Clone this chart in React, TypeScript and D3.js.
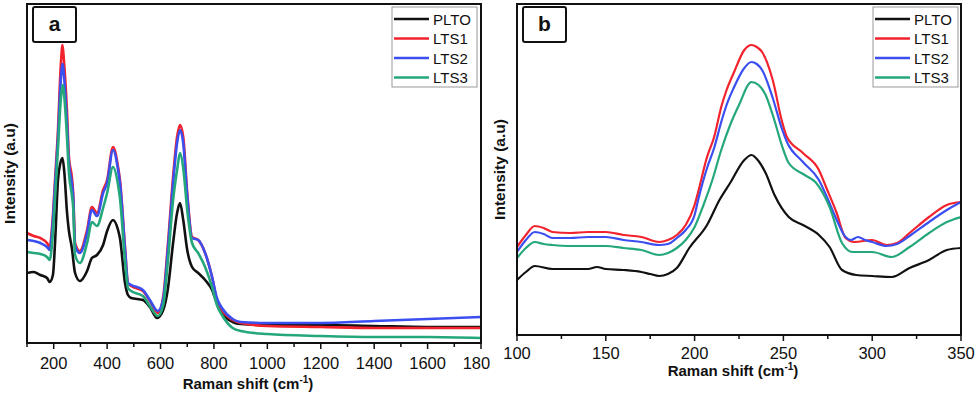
import * as d3 from 'd3';

// Raman shift (cm-1) vs intensity (a.u.)
const seriesNames = ['PLTO', 'LTS1', 'LTS2', 'LTS3'];
const seriesColors = ['#111111', '#f2232d', '#3b4ff0', '#25a77c'];

const xTicksA = [200, 400, 600, 800, 1000, 1200, 1400, 1600, 1800];
const xTicksB = [100, 150, 200, 250, 300, 350];

const pltoA: [number, number][] = [[100,70],[125,71],[150,68],[175,65],[185,61],[197,68],[205,100],[216,163],[225,180],[233,185],[240,170],[250,130],[257,112],[268,95],[280,70],[298,62],[325,72],[343,85],[362,88],[385,98],[400,112],[422,123],[441,113],[448,105],[467,60],[478,48],[490,45],[534,43],[560,36],[587,25],[610,33],[628,55],[647,100],[662,130],[673,140],[685,123],[700,93],[718,76],[741,70],[767,63],[793,53],[811,40],[830,30],[870,21],[900,19],[1000,18],[1200,18],[1400,17],[1600,16],[1800,16]];
const lts1A: [number, number][] = [[100,110],[125,107],[150,105],[175,100],[185,96],[195,120],[205,163],[216,213],[227,280],[233,298],[239,280],[250,230],[257,186],[268,166],[273,150],[280,100],[298,92],[325,113],[343,136],[362,130],[385,153],[400,163],[422,196],[441,176],[448,163],[467,96],[478,60],[490,57],[534,52],[560,42],[590,30],[610,46],[628,100],[647,166],[662,206],[673,218],[685,206],[700,150],[718,106],[741,103],[767,90],[793,66],[811,43],[830,33],[870,23],[900,20],[1000,17],[1200,16],[1400,15],[1600,15],[1800,15]];
const lts2A: [number, number][] = [[100,103],[125,102],[150,100],[175,96],[185,93],[195,115],[205,158],[216,205],[227,265],[233,279],[240,262],[250,218],[257,180],[268,160],[273,145],[280,97],[298,90],[325,110],[343,133],[362,127],[385,150],[400,160],[422,193],[441,173],[448,160],[467,94],[478,60],[490,58],[534,53],[560,43],[590,32],[610,44],[628,95],[647,160],[662,200],[673,213],[685,200],[700,147],[718,105],[741,103],[767,90],[793,66],[811,45],[830,35],[870,24],[900,21],[1000,20],[1200,20],[1400,22],[1600,24],[1800,26]];
const lts3A: [number, number][] = [[100,91],[125,90],[150,89],[175,86],[185,83],[195,103],[205,145],[216,195],[227,245],[233,258],[240,245],[250,205],[257,170],[268,148],[273,135],[280,88],[298,80],[325,100],[343,121],[362,117],[385,135],[400,150],[422,176],[441,158],[448,145],[467,82],[478,55],[490,52],[534,47],[560,37],[590,27],[610,38],[628,83],[647,143],[662,173],[673,190],[685,175],[700,133],[718,100],[741,90],[767,76],[793,56],[811,38],[830,28],[870,15],[900,12],[1000,9],[1200,7],[1400,6],[1600,6],[1800,5]];

const pltoB: [number, number][] = [[100,55],[105,63],[110,69],[120,66],[130,66],[140,66],[145,68],[150,66],[160,65],[170,63],[175,61],[180,59],[185,61],[190,67],[197,87],[207,110],[214,135],[220,152],[228,175],[232,180],[236,174],[240,162],[245,140],[253,118],[261,110],[270,100],[276,88],[283,65],[291,60],[300,59],[311,58],[321,67],[332,75],[342,85],[350,87]];
const lts1B: [number, number][] = [[100,88],[105,100],[110,109],[115,107],[120,103],[130,102],[140,103],[150,103],[160,100],[170,98],[180,93],[185,95],[190,100],[195,110],[200,130],[202,143],[207,178],[211,198],[215,228],[218,245],[222,262],[228,285],[232,290],[235,288],[238,283],[244,255],[249,215],[252,198],[261,182],[270,165],[274,148],[280,122],[285,97],[290,93],[300,95],[308,90],[314,92],[321,102],[332,118],[342,130],[350,133]];
const lts2B: [number, number][] = [[100,83],[105,95],[110,103],[115,101],[120,97],[130,97],[140,98],[150,98],[160,95],[170,93],[180,90],[185,91],[190,97],[195,105],[200,120],[202,135],[207,167],[211,187],[215,213],[218,230],[222,247],[228,267],[232,273],[235,271],[238,265],[244,237],[249,207],[252,193],[261,173],[270,155],[274,140],[280,115],[285,98],[288,95],[292,98],[296,95],[300,93],[308,89],[314,91],[321,99],[332,113],[342,125],[350,133]];
const lts3B: [number, number][] = [[100,77],[105,87],[110,93],[115,91],[120,90],[130,89],[140,89],[150,89],[160,87],[170,85],[180,80],[185,82],[190,87],[195,95],[200,108],[205,130],[210,155],[215,185],[220,210],[225,230],[232,253],[236,250],[240,240],[244,220],[250,185],[253,172],[262,160],[268,153],[276,128],[283,92],[289,83],[300,83],[311,78],[321,88],[332,102],[342,113],[350,118]];

const FONT = '"Liberation Sans", Arial, Helvetica, sans-serif';

type PanelProps = {
  letter: string;
  series: [number, number][][];
  xDomain: [number, number];
  yMax: number;
  left: number; right: number; top: number; bottom: number;
  majorTicks: number[];
  minorStep: number;
  legendX: number; legendW: number;
  tickLabelDy: number;
  titleY: number;
  yTitleX: number;
  clipRight?: number;
  lineWidth: number;
};

const Panel = (p: PanelProps) => {
  const x = d3.scaleLinear().domain(p.xDomain).range([p.left, p.right]);
  const y = d3.scaleLinear().domain([0, p.yMax]).range([p.bottom, p.top]);
  const line = d3.line<[number, number]>()
    .x(d => x(d[0]))
    .y(d => y(d[1]))
    .curve(d3.curveMonotoneX);
  const minor = d3.range(p.xDomain[0], p.xDomain[1] + 0.001, p.minorStep)
    .filter(v => !p.majorTicks.includes(v));
  const clipId = 'clip-' + p.letter;
  const legendY = 8;
  const rowH = 19.5;

  return (
    <g clipPath={p.clipRight ? `url(#${clipId}-all)` : undefined}>
      <defs>
        <clipPath id={clipId}>
          <rect x={p.left} y={p.top} width={p.right - p.left} height={p.bottom - p.top} />
        </clipPath>
        {p.clipRight && (
          <clipPath id={`${clipId}-all`}>
            <rect x={0} y={0} width={p.clipRight} height={396} />
          </clipPath>
        )}
      </defs>

      <g clipPath={`url(#${clipId})`}>
        {p.series.map((s, i) => (
          <path key={i} d={line(s) || ''} fill="none" stroke={seriesColors[i]}
            strokeWidth={p.lineWidth} strokeLinejoin="round" />
        ))}
      </g>

      <rect x={p.left} y={p.top} width={p.right - p.left} height={p.bottom - p.top}
        fill="none" stroke="#111" strokeWidth={2} />

      {p.majorTicks.map(t => (
        <g key={'M' + t}>
          <line x1={x(t)} x2={x(t)} y1={p.bottom} y2={p.bottom + 6} stroke="#111" strokeWidth={1.5} />
          <text x={x(t)} y={p.bottom + p.tickLabelDy} textAnchor="middle"
            fontFamily={FONT} fontSize={16.5} fill="#111">{t}</text>
        </g>
      ))}
      {minor.map(t => (
        <line key={'m' + t} x1={x(t)} x2={x(t)} y1={p.bottom} y2={p.bottom + 4}
          stroke="#111" strokeWidth={1.5} />
      ))}

      <text x={(p.left + p.right) / 2 - 6} y={p.titleY} textAnchor="middle"
        fontFamily={FONT} fontSize={15} fontWeight="bold" fill="#111">
        Raman shift (cm<tspan fontSize={10} dy={-6}>-1</tspan><tspan dy={6}>)</tspan>
      </text>
      <text transform={`translate(${p.yTitleX},${(p.top + p.bottom) / 2}) rotate(-90)`}
        textAnchor="middle" fontFamily={FONT} fontSize={15.5} fontWeight="bold" fill="#111">
        Intensity (a.u)
      </text>

      <rect x={p.left + 6} y={7} width={43} height={35} rx={2}
        fill="#fff" stroke="#111" strokeWidth={2} />
      <text x={p.left + 27.5} y={31} textAnchor="middle" fontFamily={FONT}
        fontSize={21} fontWeight="bold" fill="#111">{p.letter}</text>

      <rect x={p.legendX} y={legendY - 1} width={p.legendW} height={rowH * 4 + 2}
        fill="#fff" stroke="#999" strokeWidth={1} />
      {seriesNames.map((n, i) => {
        const cy = legendY + 11 + i * rowH;
        return (
          <g key={n}>
            <line x1={p.legendX + 2} x2={p.legendX + 37} y1={cy} y2={cy}
              stroke={seriesColors[i]} strokeWidth={2.5} />
            <text x={p.legendX + 41} y={cy + 5.5} fontFamily={FONT} fontSize={15} fill="#111">{n}</text>
          </g>
        );
      })}
    </g>
  );
};

export default function App() {
  return (
    <svg width={978} height={396} style={{ position: 'absolute', left: 0, top: 0, background: '#fff' }}>
      <rect width={978} height={396} fill="#fff" />
      <Panel letter="a" series={[pltoA, lts1A, lts2A, lts3A]} xDomain={[100, 1800]} yMax={339}
        left={27} right={481} top={4} bottom={343} majorTicks={xTicksA} minorStep={100}
        legendX={392} legendW={85} tickLabelDy={26} titleY={389} yTitleX={15}
        clipRight={490} lineWidth={2.6} />
      <Panel letter="b" series={[pltoB, lts1B, lts2B, lts3B]} xDomain={[100, 350]} yMax={331}
        left={517} right={961} top={4} bottom={335} majorTicks={xTicksB} minorStep={25}
        legendX={873} legendW={85} tickLabelDy={24} titleY={376} yTitleX={505}
        lineWidth={2.2} />
    </svg>
  );
}
